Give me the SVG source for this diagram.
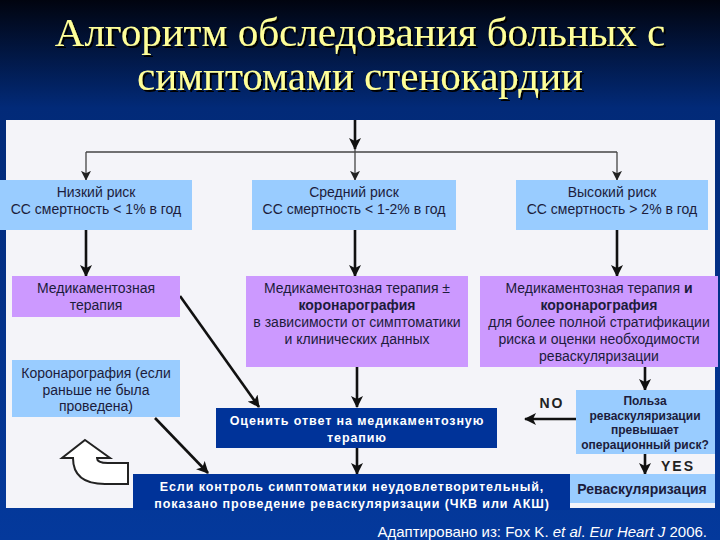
<svg xmlns="http://www.w3.org/2000/svg" width="720" height="540" viewBox="0 0 720 540">
<defs>
<linearGradient id="bg" x1="0" y1="0" x2="0" y2="1">
<stop offset="0" stop-color="#01040f"/>
<stop offset="0.2" stop-color="#022a78"/>
<stop offset="1" stop-color="#04399c"/>
</linearGradient>
<filter id="sh" x="-5%" y="-20%" width="110%" height="140%">
<feDropShadow dx="2" dy="2" stdDeviation="0.6" flood-color="#000" flood-opacity="1"/>
</filter>
<marker id="ah" viewBox="0 0 12 12" markerWidth="12" markerHeight="12" refX="11" refY="6" orient="auto" markerUnits="userSpaceOnUse">
<path d="M0,0 L12,6 L0,12 L3,6 z" fill="#111"/>
</marker>
<marker id="ahs" viewBox="0 0 12 12" markerWidth="10" markerHeight="10" refX="11" refY="6" orient="auto" markerUnits="userSpaceOnUse">
<path d="M0,0 L12,6 L0,12 L3,6 z" fill="#222"/>
</marker>
</defs>
<style>
.lb{fill:#99ccff}
.pp{fill:#cc99ff}
.db{fill:#003399}
.t{font-family:"Liberation Sans",Arial,sans-serif;font-size:14px;fill:#1c1c3c;text-anchor:middle}
.b{font-weight:bold}
.w{font-family:"Liberation Sans",Arial,sans-serif;font-size:12.5px;font-weight:bold;fill:#fff;text-anchor:middle;letter-spacing:0.9px}
.s{font-family:"Liberation Sans",Arial,sans-serif;font-size:12px;font-weight:bold;fill:#1c1c3c;text-anchor:middle}
.thick{stroke:#111;stroke-width:2.6;fill:none;marker-end:url(#ah)}
.thin{stroke:#444;stroke-width:1.3;fill:none}
.thinA{stroke:#444;stroke-width:1.3;fill:none;marker-end:url(#ahs)}
.lbl{font-family:"Liberation Sans",Arial,sans-serif;font-size:14px;font-weight:bold;fill:#222;text-anchor:middle;letter-spacing:2px}
</style>
<rect x="0" y="0" width="720" height="540" fill="url(#bg)"/>
<g id="title" font-family="'Liberation Serif','Times New Roman',serif" font-size="41" text-anchor="middle" fill="#ffff99" filter="url(#sh)">
<text x="360" y="46">Алгоритм обследования больных с</text>
<text x="360" y="90">симптомами стенокардии</text>
</g>
<rect id="panel" x="6" y="120" width="709" height="388" fill="#f4f4f9"/>
<g id="connectors">
<path class="thick" d="M355,120 V149"/>
<path class="thin" d="M86,152 H617"/>
<path class="thinA" d="M86,152 V180"/>
<path class="thinA" d="M355,149 V180"/>
<path class="thinA" d="M617,152 V180"/>
<path class="thick" d="M86,230 V276"/>
<path class="thick" d="M355,230 V276"/>
<path class="thick" d="M617,230 V276"/>
<path class="thick" d="M180,296 L259,407"/>
<path class="thick" d="M357,367 V407"/>
<path class="thick" d="M645,367 V390"/>
<path class="thick" d="M576,419 H525"/>
<path class="thick" d="M357,448 V474"/>
<path class="thick" d="M645,454 V474"/>
<path class="thick" d="M155,418 L208,473"/>
</g>
<g id="low">
<rect class="lb" x="0" y="180" width="192" height="50"/>
<text class="t" x="96" y="197">Низкий риск</text>
<text class="t" x="96" y="214">СС смертность &lt; 1% в год</text>
</g>
<g id="mid">
<rect class="lb" x="252" y="180" width="204" height="50"/>
<text class="t" x="354" y="197">Средний риск</text>
<text class="t" x="354" y="214">СС смертность &lt; 1-2% в год</text>
</g>
<g id="high">
<rect class="lb" x="516" y="180" width="192" height="50"/>
<text class="t" x="612" y="197">Высокий риск</text>
<text class="t" x="612" y="214">СС смертность &gt; 2% в год</text>
</g>
<g id="med1">
<rect class="pp" x="12" y="276" width="168" height="41"/>
<text class="t" x="96" y="293">Медикаментозная</text>
<text class="t" x="96" y="310">терапия</text>
</g>
<g id="med2">
<rect class="pp" x="246" y="276" width="222" height="91"/>
<text class="t" x="357" y="293">Медикаментозная терапия ±</text>
<text class="t b" x="357" y="310">коронарография</text>
<text class="t" x="357" y="327">в зависимости от симптоматики</text>
<text class="t" x="357" y="344">и клинических данных</text>
</g>
<g id="med3">
<rect class="pp" x="480" y="276" width="238" height="91"/>
<text class="t" x="599" y="293">Медикаментозная терапия <tspan class="b">и</tspan></text>
<text class="t b" x="599" y="310">коронарография</text>
<text class="t" x="599" y="327">для более полной стратификации</text>
<text class="t" x="599" y="344">риска и оценки необходимости</text>
<text class="t" x="599" y="361">реваскуляризации</text>
</g>
<g id="cag">
<rect class="lb" x="12" y="360" width="168" height="57"/>
<text class="t" x="96" y="378">Коронарография (если</text>
<text class="t" x="96" y="395">раньше не была</text>
<text class="t" x="96" y="411">проведена)</text>
</g>
<g id="assess">
<rect class="db" x="216" y="408" width="281" height="40"/>
<text class="w" x="357" y="425">Оценить ответ на медикаментозную</text>
<text class="w" x="357" y="442">терапию</text>
</g>
<g id="benefit">
<rect class="lb" x="576" y="390" width="139" height="64"/>
<text class="s" x="645" y="405">Польза</text>
<text class="s" x="645" y="420">реваскуляризации</text>
<text class="s" x="645" y="434">превышает</text>
<text class="s" x="645" y="449">операционный риск?</text>
</g>
<g id="no-label"><text class="lbl" x="552" y="408">NO</text></g>
<g id="yes-label"><text class="lbl" x="678" y="471">YES</text></g>
<g id="control">
<rect class="db" x="133" y="474" width="437" height="36"/>
<text class="w" x="352" y="491">Если контроль симптоматики неудовлетворительный,</text>
<text class="w" x="352" y="508">показано проведение реваскуляризации (ЧКВ или АКШ)</text>
</g>
<g id="revasc">
<rect class="lb" x="570" y="474" width="145" height="29"/>
<text class="t b" x="642" y="494">Реваскуляризация</text>
</g>
<g id="uturn">
<path d="M85,440 L110,458 L97,458 Q97,463 108,463 L128,463 L128,484 L105,484 Q73,484 73,458 L62,458 Z" fill="#fff" stroke="#222" stroke-width="2" stroke-linejoin="miter"/>
</g>
<text x="707" y="537" font-family="'Liberation Sans',Arial,sans-serif" font-size="15" fill="#fff" text-anchor="end">Адаптировано из: Fox K. <tspan font-style="italic">et al</tspan>. <tspan font-style="italic">Eur Heart J</tspan> 2006.</text>
</svg>
